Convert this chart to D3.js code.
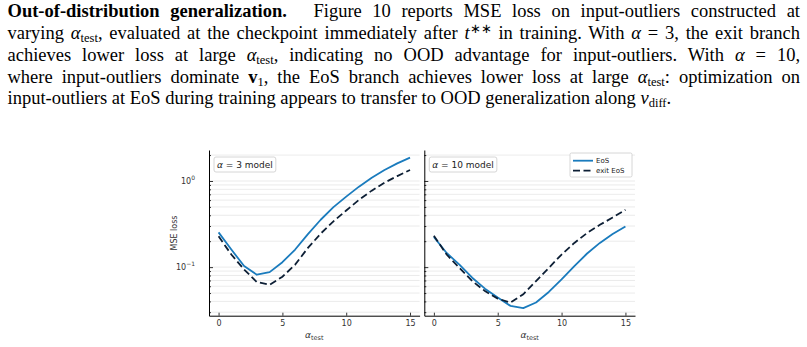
<!DOCTYPE html>
<html>
<head>
<meta charset="utf-8">
<script src="https://cdn.jsdelivr.net/npm/d3@7"></script>
<style>
body { margin:0; width:807px; height:347px; background:#fff; overflow:hidden; position:relative; }
#para { position:absolute; left:7.5px; top:1.2px; width:792.5px; font-family:"Liberation Serif","Times New Roman",serif; font-size:18.5px; color:#000; }
#para .ln { height:21.8px; line-height:21.8px; text-align:justify; text-align-last:justify; }
#para .ln.last { text-align-last:left; }
#para i.m { font-style:italic; }
#para sub { font-size:12.5px; vertical-align:-3px; line-height:0; }
#para sup { font-size:12.5px; vertical-align:6px; line-height:0; }
#chart { position:absolute; left:0; top:0; }
</style>
</head>
<body>
<div id="para">
  <div class="ln"><b>Out-of-distribution generalization.</b><span style="display:inline-block;width:16px"></span> Figure 10 reports MSE loss on input-outliers constructed at</div>
  <div class="ln">varying <i class="m">α</i><sub>test</sub>, evaluated at the checkpoint immediately after <i class="m">t</i><sup>∗∗</sup> in training. With <i class="m">α</i> = 3, the exit branch</div>
  <div class="ln">achieves lower loss at large <i class="m">α</i><sub>test</sub>, indicating no OOD advantage for input-outliers. With <i class="m">α</i> = 10,</div>
  <div class="ln">where input-outliers dominate <b>v</b><sub>1</sub>, the EoS branch achieves lower loss at large <i class="m">α</i><sub>test</sub>: optimization on</div>
  <div class="ln last">input-outliers at EoS during training appears to transfer to OOD generalization along <i class="m">v</i><sub>diff</sub>.</div>
</div>
<svg id="chart" width="807" height="347"></svg>
<script>
// values
var alphaTest = [0,1,2,3,4,5,6,7,8,9,10,11,12,13,14,15];
var a3EoS  = [0.253,0.16,0.103,0.0816,0.0875,0.114,0.16,0.242,0.355,0.497,0.659,0.86,1.09,1.34,1.6,1.87];
var a3Exit = [0.228,0.14,0.094,0.067,0.0625,0.0773,0.107,0.167,0.245,0.34,0.455,0.604,0.773,0.957,1.14,1.34];
var a10EoS  = [0.224,0.146,0.107,0.0753,0.0562,0.0443,0.0355,0.0334,0.0388,0.0515,0.0721,0.103,0.144,0.191,0.242,0.297];
var a10Exit = [0.232,0.14,0.098,0.0689,0.0528,0.0431,0.0388,0.0484,0.0689,0.098,0.14,0.191,0.249,0.31,0.377,0.463];
var xTicks = [0,5,10,15];
var seriesNames = ["EoS","exit EoS"];

// keep each paragraph line on one row: tighten word spacing if it would wrap
d3.selectAll("#para .ln").each(function() {
  var el = this, w = el.clientWidth;
  el.style.whiteSpace = "nowrap";
  var nat = el.scrollWidth;
  el.style.whiteSpace = "";
  if (nat > w) {
    var spaces = (el.textContent.trim().match(/\s+/g) || []).length;
    el.style.wordSpacing = (-(nat - w + 1) / spaces) + "px";
  }
});

var eosColor = "#1a7bbd", exitColor = "#0d1f35";
var svg = d3.select("#chart");
var plotTop = 150, plotBottom = 315.7;

var y = d3.scaleLog().domain([0.0273, 2.29]).range([plotBottom, plotTop]);
var yTicks = y.ticks();
var isMajor = function(v) { return Math.abs(Math.log10(v) - Math.round(Math.log10(v))) < 1e-6; };

var panels = [
  {x0:209, x1:419.6, eos:a3EoS, exit:a3Exit, alpha:"3", labels:true, legend:false},
  {x0:424.3, x1:635, eos:a10EoS, exit:a10Exit, alpha:"10", labels:false, legend:true}
];

panels.forEach(function(p) {
  var x = d3.scaleLinear().domain([-0.75, 15.75]).range([p.x0, p.x1]);
  var g = svg.append("g");

  // grid
  g.append("g").selectAll("line").data(yTicks).enter().append("line")
    .attr("x1", p.x0).attr("x2", p.x1)
    .attr("y1", function(d){ return y(d); }).attr("y2", function(d){ return y(d); })
    .attr("stroke", "#e6e6e6").attr("stroke-width", 0.8);

  // lines
  var line = d3.line().x(function(d,i){ return x(alphaTest[i]); }).y(function(d){ return y(d); });
  g.append("path").datum(p.eos).attr("d", line)
    .attr("fill","none").attr("stroke", eosColor).attr("stroke-width", 1.8).attr("stroke-linejoin","round");
  g.append("path").datum(p.exit).attr("d", line)
    .attr("fill","none").attr("stroke", exitColor).attr("stroke-width", 1.8)
    .attr("stroke-dasharray","7,3.5");

  // x axis
  var xa = g.append("g").attr("transform","translate(0,"+plotBottom+")")
    .call(d3.axisBottom(x).tickValues(xTicks).tickSizeInner(-3).tickSizeOuter(0).tickPadding(5));
  xa.select(".domain").attr("stroke","#000").attr("stroke-width",1);
  xa.selectAll(".tick line").attr("stroke","#000").attr("stroke-width",0.8);
  xa.selectAll("text").attr("font-family","DejaVu Sans").attr("font-size",8).attr("fill","#333");

  // y axis
  var ya = g.append("g").attr("transform","translate("+p.x0+",0)")
    .call(d3.axisLeft(y).tickValues(yTicks).tickFormat("").tickSizeOuter(0));
  ya.select(".domain").attr("stroke","#000").attr("stroke-width",1);
  ya.selectAll(".tick line").attr("stroke","#000").attr("stroke-width",0.8)
    .attr("x2", function(d){ return isMajor(d) ? 4 : 2; });

  if (p.labels) {
    yTicks.filter(isMajor).forEach(function(v) {
      var t = g.append("text").attr("x", p.x0 - 14).attr("y", y(v) + 3)
        .attr("text-anchor","end").attr("font-family","DejaVu Sans").attr("font-size",8).attr("fill","#333");
      t.append("tspan").text("10");
      t.append("tspan").attr("dy",-4).attr("font-size",6).text(Math.round(Math.log10(v)) === 0 ? "0" : "\u22121");
    });
    g.append("text").attr("transform","translate(177,233) rotate(-90)")
      .attr("text-anchor","middle").attr("font-family","DejaVu Sans").attr("font-size",8).attr("fill","#333")
      .text("MSE loss");
  }

  // x label
  var xl = g.append("text").attr("x", x(7.5)).attr("y", 338).attr("text-anchor","middle")
    .attr("font-family","DejaVu Sans").attr("font-size",9).attr("fill","#333");
  xl.append("tspan").attr("font-style","italic").text("α");
  xl.append("tspan").attr("dy",2).attr("font-size",6.5).text("test");

  // title box
  var tb = g.append("g");
  var rect = tb.append("rect").attr("fill","#fff").attr("stroke","#ccc").attr("stroke-width",0.8).attr("rx",2);
  var tt = tb.append("text").attr("x", p.x0 + 8).attr("y", 167.8)
    .attr("font-family","DejaVu Sans").attr("font-size",9).attr("fill","#222");
  tt.append("tspan").attr("font-style","italic").text("α");
  tt.append("tspan").text(" = " + p.alpha + " model");
  var bb = tt.node().getBBox();
  rect.attr("x", p.x0 + 5).attr("y", 157).attr("width", bb.width + 6).attr("height", 15);

  if (p.legend) {
    var lg = g.append("g");
    lg.append("rect").attr("x",570).attr("y",153).attr("width",62).attr("height",24)
      .attr("fill","#fff").attr("stroke","#ccc").attr("stroke-width",0.8).attr("rx",1.5);
    seriesNames.forEach(function(n, i) {
      var yy = 160.7 + i * 10;
      lg.append("line").attr("x1",573).attr("x2",593).attr("y1",yy).attr("y2",yy)
        .attr("stroke", i === 0 ? eosColor : exitColor).attr("stroke-width",1.8)
        .attr("stroke-dasharray", i === 0 ? null : "7,3.5");
      lg.append("text").attr("x",596).attr("y",yy + 2.5)
        .attr("font-family","DejaVu Sans").attr("font-size",7).attr("fill","#222").text(n);
    });
  }
});
</script>
</body>
</html>
